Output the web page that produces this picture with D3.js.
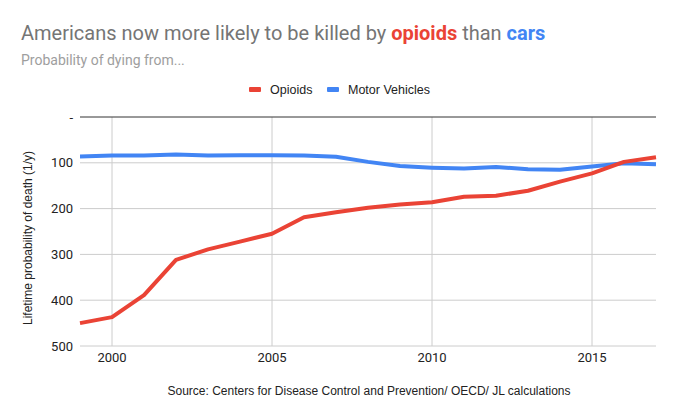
<!DOCTYPE html>
<html>
<head>
<meta charset="utf-8">
<script src="https://cdn.jsdelivr.net/npm/d3@7"></script>
<style>
  body { margin: 0; background: #fff; }
  svg { font-family: Arial, "Liberation Sans", sans-serif; }
</style>
</head>
<body>
<svg id="chart" width="678" height="419"></svg>
<script>
// values (1 in N lifetime odds)
const years = [1999, 2000, 2001, 2002, 2003, 2004, 2005, 2006, 2007, 2008,
               2009, 2010, 2011, 2012, 2013, 2014, 2015, 2016, 2017];
const opioids = [450, 437, 389, 312, 289, 272, 255, 219, 208, 198,
                 191, 186, 174, 172, 161, 141, 123, 98, 88];
const motorVehicles = [86, 84, 84, 82, 84, 83.5, 83.5, 84, 87, 98,
                       107, 110.6, 112.7, 109, 114, 115, 108, 101, 103];
const yTicks = [0, 100, 200, 300, 400, 500];
const xTicks = [2000, 2005, 2010, 2015];

const seriesKeys = ["Opioids", "Motor Vehicles"];
const seriesColors = ["#ea4335", "#4285f4"];

const svg = d3.select("#chart"),
    margin = {top: 117, right: 22, bottom: 73, left: 80},
    width = +svg.attr("width") - margin.left - margin.right,
    height = +svg.attr("height") - margin.top - margin.bottom,
    g = svg.append("g").attr("transform", "translate(" + margin.left + "," + margin.top + ")");

const x = d3.scaleLinear().domain([1999, 2017]).range([0, width]);
const y = d3.scaleLinear().domain([0, 500]).range([0, height]);
const z = d3.scaleOrdinal().domain(seriesKeys).range(seriesColors);

// title
const title = svg.append("text")
    .attr("x", 21)
    .attr("y", 40)
    .attr("font-family", "Roboto, Arial, sans-serif")
    .attr("font-size", 20)
    .attr("fill", "#757575");
title.append("tspan").text("Americans now more likely to be killed by ");
title.append("tspan").attr("fill", "#ea4335").attr("font-weight", "bold").text("opioids");
title.append("tspan").text(" than ");
title.append("tspan").attr("fill", "#4285f4").attr("font-weight", "bold").text("cars");

svg.append("text")
    .attr("x", 21)
    .attr("y", 65)
    .attr("font-family", "Roboto, Arial, sans-serif")
    .attr("font-size", 14)
    .attr("fill", "#9e9e9e")
    .text("Probability of dying from...");

// gridlines
g.append("g")
    .selectAll("line")
    .data(xTicks)
    .enter().append("line")
    .attr("x1", d => x(d)).attr("x2", d => x(d))
    .attr("y1", 0).attr("y2", height)
    .attr("stroke", "#cccccc");

g.append("g")
    .selectAll("line")
    .data(yTicks)
    .enter().append("line")
    .attr("x1", 0).attr("x2", width)
    .attr("y1", d => y(d)).attr("y2", d => y(d))
    .attr("stroke", d => d === 0 ? "#333333" : "#cccccc");

// axis labels
g.append("g")
    .selectAll("text")
    .data(yTicks)
    .enter().append("text")
    .attr("x", -7)
    .attr("y", d => y(d))
    .attr("dy", "0.35em")
    .attr("text-anchor", "end")
    .attr("font-family", "Roboto, Arial, sans-serif")
    .attr("font-size", 13)
    .attr("fill", "#222")
    .text(d => d === 0 ? "-" : d);

g.append("g")
    .selectAll("text")
    .data(xTicks)
    .enter().append("text")
    .attr("x", d => x(d))
    .attr("y", height + 16)
    .attr("text-anchor", "middle")
    .attr("font-family", "Roboto, Arial, sans-serif")
    .attr("font-size", 13)
    .attr("fill", "#222")
    .text(d => d);

svg.append("text")
    .attr("transform", "translate(32," + 238 + ") rotate(-90)")
    .attr("text-anchor", "middle")
    .attr("font-size", 12)
    .attr("fill", "#222")
    .text("Lifetime probability of death (1/y)");

// lines
const line = d3.line()
    .x((d, i) => x(years[i]))
    .y(d => y(d));

const lineData = [motorVehicles, opioids];
const lineKeys = ["Motor Vehicles", "Opioids"];

g.append("g")
    .selectAll("path")
    .data(lineData)
    .enter().append("path")
    .attr("fill", "none")
    .attr("stroke", (d, i) => z(lineKeys[i]))
    .attr("stroke-width", 4)
    .attr("stroke-linejoin", "round")
    .attr("d", line);

// legend
const legendX = [249, 327];
const legend = svg.append("g")
    .selectAll("g")
    .data(seriesKeys)
    .enter().append("g")
    .attr("transform", (d, i) => "translate(" + legendX[i] + ",89)");

legend.append("rect")
    .attr("x", 0)
    .attr("y", -2)
    .attr("width", 12)
    .attr("height", 5)
    .attr("rx", 1)
    .attr("fill", z);

legend.append("text")
    .attr("x", 21)
    .attr("y", 4.5)
    .attr("font-size", 12.5)
    .attr("fill", "#222")
    .text(d => d);

svg.append("text")
    .attr("x", 369)
    .attr("y", 395)
    .attr("text-anchor", "middle")
    .attr("font-size", 12)
    .attr("fill", "#222")
    .text("Source: Centers for Disease Control and Prevention/ OECD/ JL calculations");
</script>
</body>
</html>
